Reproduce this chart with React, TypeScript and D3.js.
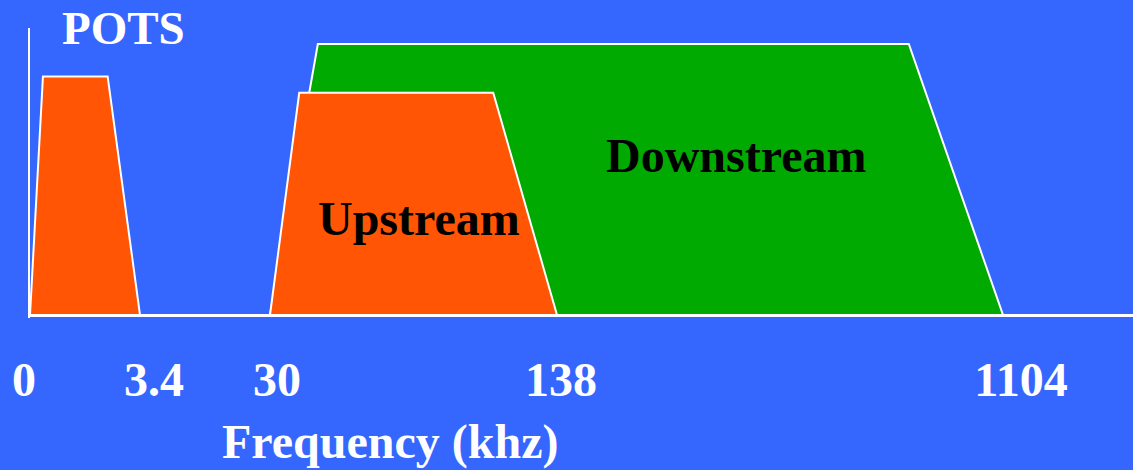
import React, { useRef, useEffect } from "react";
import { select, scaleLinear, line } from "d3";

const width = 1133;
const height = 470;

// schematic (non-linear) frequency axis, kHz
const tickValues = [0, 3.4, 30, 138, 1104];
const tickLabels = ["0", "3.4", "30", "138", "1104"];

// each band: [start, topStart, topEnd, end] in kHz, level in % of max
const bandNames = ["POTS", "Downstream", "Upstream"];
const bandEdges = [
  [0, 0.4, 2.4, 3.4],
  [30, 48, 900, 1104],
  [30, 41, 114, 138],
];
const bandLevels = [88, 100, 82];
const bandColors = ["#ff5505", "#00aa00", "#ff5505"];

const App = () => {
  const svgRef = useRef<SVGSVGElement>(null);

  useEffect(() => {
    document.body.style.margin = "0";
    const svg = select(svgRef.current);
    svg.selectAll("*").remove();

    const xScale = scaleLinear()
      .domain(tickValues)
      .range([30, 140, 270, 557, 1003]);
    // tick labels sit a little off the band corners in the original slide
    const labelX = scaleLinear()
      .domain(tickValues)
      .range([24, 154, 277, 561, 1021]);
    const yScale = scaleLinear().domain([0, 100]).range([315, 44]);

    svg
      .append("rect")
      .attr("width", width)
      .attr("height", height)
      .attr("fill", "#3567ff");

    const trapezoid = line<[number, number]>()
      .x((d) => xScale(d[0]))
      .y((d) => yScale(d[1]));

    bandEdges.forEach((edges, i) => {
      const lvl = bandLevels[i];
      const pts: [number, number][] = [
        [edges[0], 0],
        [edges[1], lvl],
        [edges[2], lvl],
        [edges[3], 0],
      ];
      svg
        .append("path")
        .attr("d", trapezoid(pts) + "Z")
        .attr("fill", bandColors[i])
        .attr("stroke", "#fff")
        .attr("stroke-width", 2)
        .attr("stroke-linejoin", "miter");
    });

    // axes
    svg
      .append("line")
      .attr("x1", 29)
      .attr("x2", 29)
      .attr("y1", 28)
      .attr("y2", yScale(0) + 3)
      .attr("stroke", "#fff")
      .attr("stroke-width", 2);
    svg
      .append("line")
      .attr("x1", 28)
      .attr("x2", width)
      .attr("y1", yScale(0) + 0.5)
      .attr("y2", yScale(0) + 0.5)
      .attr("stroke", "#fff")
      .attr("stroke-width", 3);

    const font = "'Liberation Serif', 'Times New Roman', serif";

    svg
      .selectAll(".tick-label")
      .data(tickValues)
      .join("text")
      .attr("class", "tick-label")
      .attr("x", (d) => labelX(d))
      .attr("y", 396)
      .attr("text-anchor", "middle")
      .attr("fill", "#fff")
      .style("font", `bold 48px ${font}`)
      .text((d, i) => tickLabels[i]);

    svg
      .append("text")
      .attr("x", 222)
      .attr("y", 458)
      .attr("fill", "#fff")
      .style("font", `bold 48px ${font}`)
      .text("Frequency (khz)");

    svg
      .append("text")
      .attr("x", 62)
      .attr("y", 44)
      .attr("fill", "#fff")
      .style("font", `bold 47px ${font}`)
      .text(bandNames[0]);
    svg
      .append("text")
      .attr("x", 606)
      .attr("y", 172)
      .attr("fill", "#000")
      .style("font", `bold 48px ${font}`)
      .text(bandNames[1]);
    svg
      .append("text")
      .attr("x", 318)
      .attr("y", 235)
      .attr("fill", "#000")
      .style("font", `bold 48px ${font}`)
      .text(bandNames[2]);
  }, []);

  return (
    <svg
      ref={svgRef}
      width={width}
      height={height}
      style={{ display: "block", position: "absolute", left: 0, top: 0 }}
    />
  );
};

export default App;
